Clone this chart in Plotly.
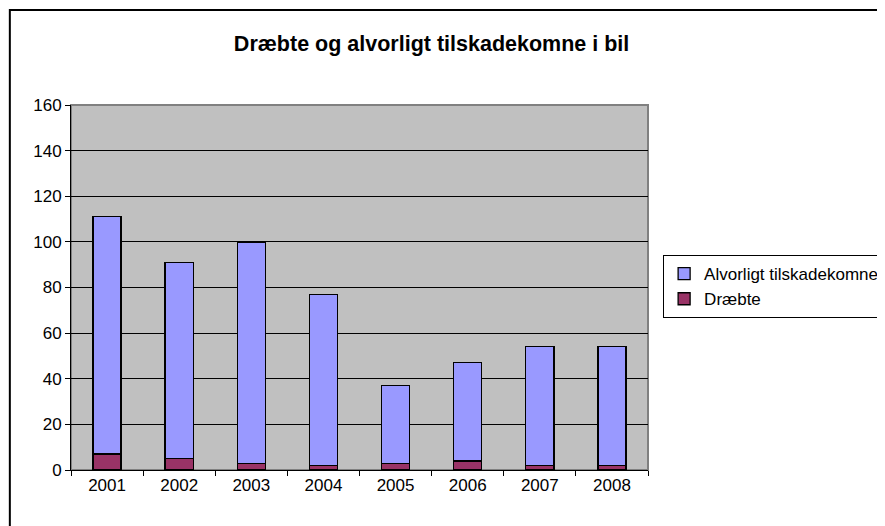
import plotly.graph_objects as go

# data
years = ['2001', '2002', '2003', '2004', '2005', '2006', '2007', '2008']
draebte = [7, 5, 3, 2, 3, 4, 2, 2]
alvorligt = [104, 86, 97, 75, 34, 43, 52, 52]

fig = go.Figure()
fig.add_trace(go.Bar(x=years, y=draebte, name='Dræbte',
                     marker=dict(color='#993366', line=dict(color='black', width=1.3))))
fig.add_trace(go.Bar(x=years, y=alvorligt, name='Alvorligt tilskadekomne',
                     marker=dict(color='#9999FF', line=dict(color='black', width=1.3))))

# page has an 8px body margin, so the figure is sized to 877x518
fig.update_layout(
    barmode='stack',
    bargap=0.61,
    width=877, height=518,
    margin=dict(l=63, r=237, t=97, b=56),
    paper_bgcolor='white',
    plot_bgcolor='#C0C0C0',
    font=dict(family='Liberation Sans, Arial', size=17, color='black'),
    title=dict(text='<b>Dræbte og alvorligt tilskadekomne i bil</b>',
               x=0.483, xref='container', xanchor='center',
               y=0.932, yref='container', yanchor='middle',
               font=dict(size=21.5)),
    legend=dict(traceorder='reversed', xref='container', yref='container',
                x=0.747, xanchor='left', y=0.523, yanchor='top',
                bordercolor='black', borderwidth=1, bgcolor='white',
                font=dict(size=17), tracegroupgap=0, itemwidth=30),
    showlegend=True,
)
fig.update_xaxes(showline=True, linecolor='black', linewidth=1, ticks='outside',
                 tickson='boundaries', ticklen=5, tickcolor='black',
                 showgrid=False, mirror=False)
fig.update_yaxes(range=[0, 160], dtick=20, showline=True, linecolor='black', linewidth=1,
                 ticks='outside', ticklen=5, tickcolor='black',
                 showgrid=True, gridcolor='black', gridwidth=1, zeroline=False)

# gray plot border on top/right, outer chart frame
fig.add_shape(type='rect', xref='paper', yref='paper', x0=0, y0=0, x1=1, y1=1,
              line=dict(color='#808080', width=2), layer='below')
fig.add_shape(type='rect', xref='paper', yref='paper', x0=-0.106, y0=-0.17, x1=1.45, y1=1.26,
              line=dict(color='black', width=2))

fig.write_html("out.html")
